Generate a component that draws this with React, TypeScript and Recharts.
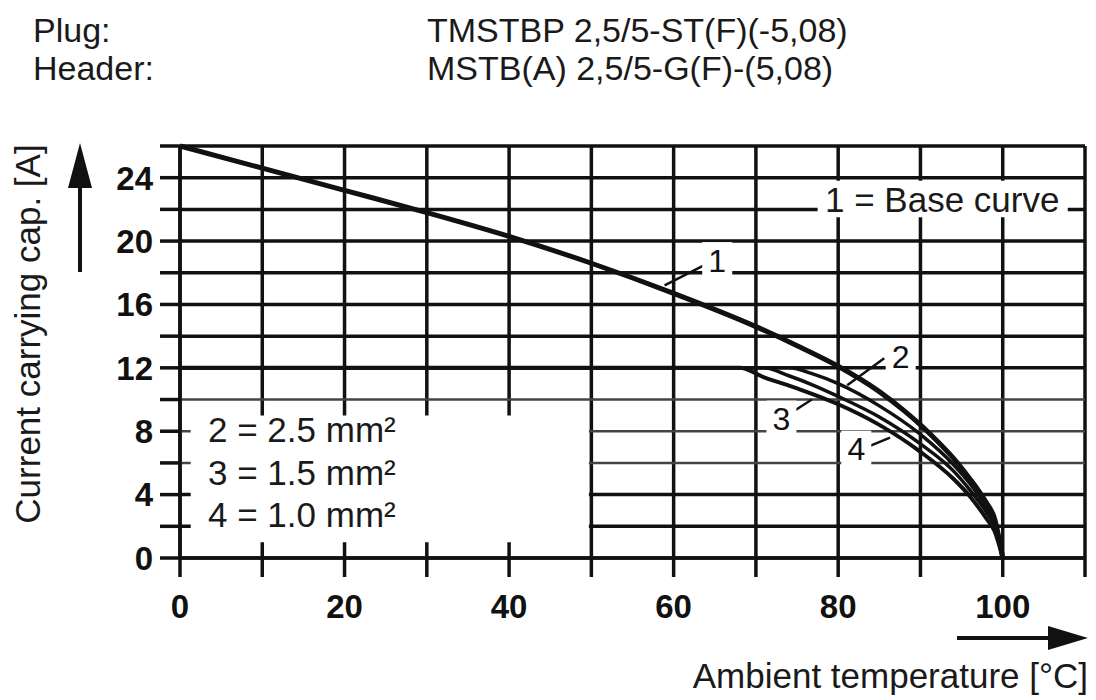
import {
  CartesianGrid,
  Line,
  LineChart,
  ReferenceArea,
  ReferenceDot,
  ReferenceLine,
  XAxis,
  YAxis,
} from "recharts";

// ambient temperature [°C] / current carrying capacity [A]
const TEMP_TICKS = [0, 10, 20, 30, 40, 50, 60, 70, 80, 90, 100, 110];
const CURRENT_TICKS = [0, 2, 4, 6, 8, 10, 12, 14, 16, 18, 20, 22, 24, 26];
const THIN_GRID = [6, 8, 10];
const THICK_GRID = [0, 2, 4, 12, 14, 16, 18, 20, 22, 24, 26];

// 1 = base curve
const baseTemp = [0, 10, 20, 30, 40, 50, 60, 70, 75, 80, 85, 88, 90, 92, 94, 96, 97, 98, 99, 100];
const baseCurrent = [26, 24.6, 23.2, 21.8, 20.3, 18.6, 16.7, 14.6, 13.4, 12.1, 10.5, 9.3, 8.4, 7.4, 6.3, 5.0, 4.3, 3.5, 2.5, 0];

// 2 = 2.5 mm²
const temp25 = [0, 74, 77, 80, 85, 90, 94, 96, 98, 99, 100];
const current25 = [12, 12, 11.6, 11.0, 9.6, 7.8, 5.9, 4.7, 3.2, 2.3, 0];

// 3 = 1.5 mm²
const temp15 = [0, 71, 74, 77, 80, 85, 90, 94, 96, 98, 99, 100];
const current15 = [12, 12, 11.5, 10.9, 10.2, 8.9, 7.2, 5.5, 4.3, 2.9, 2.0, 0];

// 4 = 1.0 mm²
const temp10 = [0, 68, 71, 75, 80, 85, 90, 94, 96, 98, 99, 100];
const current10 = [12, 12, 11.4, 10.7, 9.7, 8.4, 6.7, 5.0, 3.9, 2.5, 1.7, 0];

const toRows = (xs: number[], ys: number[]) => xs.map((x, i) => ({ x, y: ys[i] }));

const INK = "#111";
const FONT = "'Liberation Sans', Arial, sans-serif";

// curve number tags and their leader lines (data coords)
const tags = [
  { text: "1", at: { x: 65.3, y: 18.8 }, from: { x: 58.9, y: 17.2 }, to: { x: 63.8, y: 18.5 } },
  { text: "2", at: { x: 87.6, y: 12.7 }, from: { x: 81.1, y: 10.9 }, to: { x: 85.6, y: 12.6 } },
  { text: "3", at: { x: 73.1, y: 8.8 }, from: { x: 74.4, y: 9.2 }, to: { x: 76.8, y: 10.0 } },
  { text: "4", at: { x: 82.2, y: 6.9 }, from: { x: 83.5, y: 7.0 }, to: { x: 86.3, y: 7.6 } },
];

function TempTick({ x, y, payload }: any) {
  const v = payload.value;
  if (v % 20 !== 0 || v > 100) return <g />;
  return (
    <text x={x} y={y + 39} textAnchor="middle" fontSize={33} fontWeight="bold" fill={INK} fontFamily={FONT}>
      {v}
    </text>
  );
}

function CurrentTick({ x, y, payload }: any) {
  const v = payload.value;
  if (v % 4 !== 0 || v > 24) return <g />;
  return (
    <text x={x - 5} y={y} dy="0.36em" textAnchor="end" fontSize={33} fontWeight="bold" fill={INK} fontFamily={FONT}>
      {v}
    </text>
  );
}

function tagShape(text: string) {
  return (p: any) => (
    <g>
      <rect x={p.cx - 15} y={p.cy - 18} width={30} height={36} fill="#fff" />
      <text x={p.cx} y={p.cy} dy="0.36em" textAnchor="middle" fontSize={32} fill={INK} fontFamily={FONT}>
        {text}
      </text>
    </g>
  );
}

export default function App() {
  const txt = { fontFamily: FONT, fill: "#1a1a1a" };
  return (
    <div style={{ position: "absolute", left: 0, top: 0, width: 1096, height: 700, background: "#fff" }}>
      <LineChart width={1096} height={700} margin={{ top: 146, right: 11, bottom: 112, left: 120 }}>
        <CartesianGrid
          stroke={INK}
          strokeWidth={3.5}
          verticalValues={TEMP_TICKS}
          horizontalValues={THICK_GRID}
        />
        <CartesianGrid stroke="#444" strokeWidth={2.5} vertical={false} horizontalValues={THIN_GRID} />
        <XAxis
          type="number"
          dataKey="x"
          domain={[0, 110]}
          ticks={TEMP_TICKS}
          interval={0}
          tickSize={19}
          tickLine={{ stroke: INK, strokeWidth: 3.5 }}
          axisLine={{ stroke: INK, strokeWidth: 3.5 }}
          tick={TempTick}
        />
        <YAxis
          type="number"
          domain={[0, 26]}
          ticks={CURRENT_TICKS}
          interval={0}
          tickSize={20}
          tickLine={{ stroke: INK, strokeWidth: 3.5 }}
          axisLine={{ stroke: INK, strokeWidth: 3.5 }}
          tick={CurrentTick}
        />
        <ReferenceArea x1={1.3} x2={49.7} y1={1.0} y2={9.0} fill="#fff" fillOpacity={1} stroke="none" />
        <ReferenceArea x1={77.5} x2={107.9} y1={21.5} y2={23.8} fill="#fff" fillOpacity={1} stroke="none" />
        <Line data={toRows(baseTemp, baseCurrent)} dataKey="y" type="monotone" stroke={INK} strokeWidth={5} dot={false} isAnimationActive={false} />
        <Line data={toRows(temp25, current25)} dataKey="y" type="monotone" stroke={INK} strokeWidth={3.5} dot={false} isAnimationActive={false} />
        <Line data={toRows(temp15, current15)} dataKey="y" type="monotone" stroke={INK} strokeWidth={3.5} dot={false} isAnimationActive={false} />
        <Line data={toRows(temp10, current10)} dataKey="y" type="monotone" stroke={INK} strokeWidth={4} dot={false} isAnimationActive={false} />
        {tags.map((t) => (
          <ReferenceLine key={"l" + t.text} segment={[t.from, t.to]} stroke={INK} strokeWidth={2.5} />
        ))}
        {tags.map((t) => (
          <ReferenceDot key={"d" + t.text} x={t.at.x} y={t.at.y} r={0} shape={tagShape(t.text)} />
        ))}
      </LineChart>
      <svg width={1096} height={700} style={{ position: "absolute", left: 0, top: 0, pointerEvents: "none" }}>
        <text x={33} y={42} fontSize={34} {...txt}>Plug:</text>
        <text x={33} y={80} fontSize={34} {...txt}>Header:</text>
        <text x={427} y={42} fontSize={34} {...txt}>TMSTBP 2,5/5-ST(F)(-5,08)</text>
        <text x={427} y={80} fontSize={34} {...txt}>MSTB(A) 2,5/5-G(F)-(5,08)</text>
        <text transform="translate(40,334) rotate(-90)" textAnchor="middle" fontSize={35} {...txt}>
          Current carrying cap. [A]
        </text>
        <line x1={80} y1={272} x2={80} y2={180} stroke={INK} strokeWidth={4} />
        <polygon points="80,143 68,188 92,188" fill={INK} />
        <line x1={957} y1={638} x2={1055} y2={638} stroke={INK} strokeWidth={4} />
        <polygon points="1088,638 1048,626 1048,650" fill={INK} />
        <text x={1088} y={688} textAnchor="end" fontSize={35} {...txt}>Ambient temperature [°C]</text>
        <text x={825} y={212} fontSize={35} {...txt}>1 = Base curve</text>
        <text x={208} y={442} fontSize={35} {...txt}>2 = 2.5 mm²</text>
        <text x={208} y={485} fontSize={35} {...txt}>3 = 1.5 mm²</text>
        <text x={208} y={527} fontSize={35} {...txt}>4 = 1.0 mm²</text>
      </svg>
    </div>
  );
}
